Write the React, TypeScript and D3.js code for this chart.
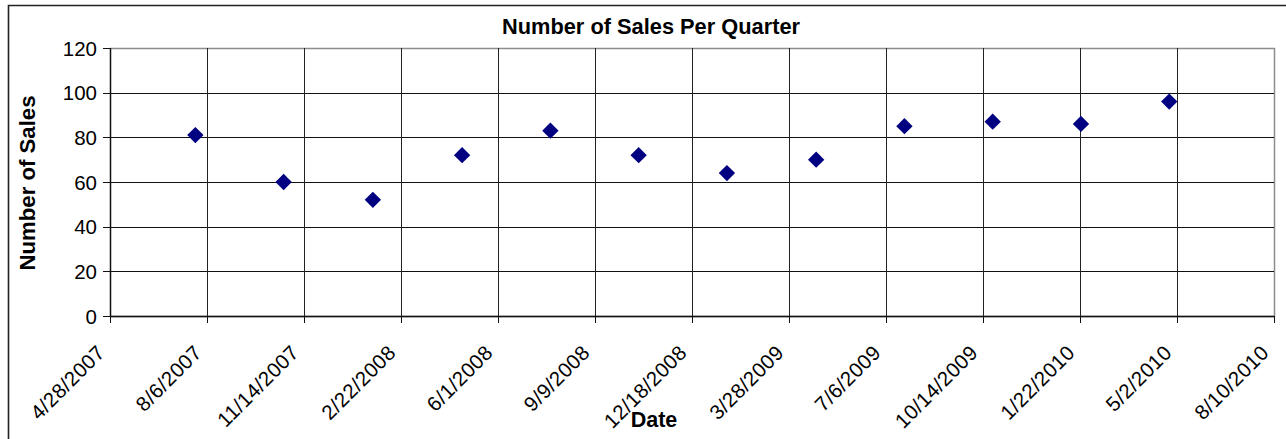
import React, { useEffect, useRef } from "react";
import * as d3 from "d3";

const saleDates = [
  "2007-07-25", "2007-10-24", "2008-01-24", "2008-04-25",
  "2008-07-25", "2008-10-24", "2009-01-23", "2009-04-25",
  "2009-07-25", "2009-10-24", "2010-01-23", "2010-04-24",
];
const salesCounts = [81, 60, 52, 72, 83, 72, 64, 70, 85, 87, 86, 96];
const xDomainStart = "2007-04-28";
const xDomainEnd = "2010-08-10";
const xTickStepDays = 100;
const yTicks = [0, 20, 40, 60, 80, 100, 120];
const chartTitle = "Number of Sales Per Quarter";
const xTitle = "Date";
const yTitle = "Number of Sales";

const W = 1286;
const H = 439;
const plot = { left: 110, right: 1274, top: 48, bottom: 316 };

export default function App() {
  const ref = useRef<SVGSVGElement | null>(null);

  useEffect(() => {
    const svg = d3.select(ref.current);
    svg.selectAll("*").remove();
    const parse = d3.utcParse("%Y-%m-%d");
    const start = parse(xDomainStart)!;
    const end = parse(xDomainEnd)!;
    const x = d3.scaleUtc().domain([start, end]).range([plot.left, plot.right]);
    const y = d3.scaleLinear().domain([0, 120]).range([plot.bottom, plot.top]);
    const nTicks = Math.round((+end - +start) / 86400000 / xTickStepDays);
    const xTicks = d3.range(nTicks + 1).map((i) => d3.utcDay.offset(start, i * xTickStepDays));
    const fmt = d3.utcFormat("%-m/%-d/%Y");
    const font = "'Liberation Sans', Arial, sans-serif";

    svg.append("rect").attr("x", 0).attr("y", 0).attr("width", W).attr("height", H).attr("fill", "#fff");
    // outer chart border
    svg.append("path")
      .attr("d", `M8.5,${H + 5}V5.5H${W + 5}`)
      .attr("fill", "none").attr("stroke", "#222").attr("stroke-width", 1.6);

    // plot area border (gray)
    svg.append("rect")
      .attr("x", plot.left + 0.5).attr("y", plot.top + 0.5)
      .attr("width", plot.right - plot.left).attr("height", plot.bottom - plot.top)
      .attr("fill", "none").attr("stroke", "#8c8c8c").attr("stroke-width", 1.5);

    // horizontal gridlines
    svg.append("g").selectAll("line").data(yTicks.filter((t) => t > 0 && t < 120)).join("line")
      .attr("x1", plot.left).attr("x2", plot.right)
      .attr("y1", (d) => Math.round(y(d)) + 0.5).attr("y2", (d) => Math.round(y(d)) + 0.5)
      .attr("stroke", "#111").attr("stroke-width", 1);
    // vertical gridlines
    svg.append("g").selectAll("line").data(xTicks.slice(1, -1)).join("line")
      .attr("x1", (d) => Math.round(x(d)) + 0.5).attr("x2", (d) => Math.round(x(d)) + 0.5)
      .attr("y1", plot.top).attr("y2", plot.bottom)
      .attr("stroke", "#222").attr("stroke-width", 1);

    // axes lines
    svg.append("line").attr("x1", plot.left + 0.5).attr("x2", plot.left + 0.5)
      .attr("y1", plot.top).attr("y2", plot.bottom + 0.5).attr("stroke", "#111").attr("stroke-width", 1.3);
    svg.append("line").attr("x1", plot.left).attr("x2", plot.right + 0.5)
      .attr("y1", plot.bottom + 0.5).attr("y2", plot.bottom + 0.5).attr("stroke", "#111").attr("stroke-width", 1.3);

    // y ticks
    const yg = svg.append("g");
    yg.selectAll("line").data(yTicks).join("line")
      .attr("x1", plot.left - 7).attr("x2", plot.left)
      .attr("y1", (d) => Math.round(y(d)) + 0.5).attr("y2", (d) => Math.round(y(d)) + 0.5)
      .attr("stroke", "#111");
    yg.selectAll("text").data(yTicks).join("text")
      .attr("x", plot.left - 13).attr("y", (d) => y(d) + 7.5)
      .attr("text-anchor", "end").attr("font-family", font).attr("font-size", 20.5)
      .attr("fill", "#000").text((d) => String(d));

    // x ticks
    const xg = svg.append("g");
    xg.selectAll("line").data(xTicks).join("line")
      .attr("x1", (d) => Math.round(x(d)) + 0.5).attr("x2", (d) => Math.round(x(d)) + 0.5)
      .attr("y1", plot.bottom).attr("y2", plot.bottom + 7)
      .attr("stroke", "#111");
    xg.selectAll("text").data(xTicks).join("text")
      .attr("transform", (d) => `translate(${x(d) - 4},${plot.bottom + 38}) rotate(-45)`)
      .attr("text-anchor", "end").attr("font-family", font).attr("font-size", 20.5)
      .attr("letter-spacing", 0.4)
      .attr("fill", "#000").text((d) => fmt(d));

    // points
    const sym = d3.symbol().type(d3.symbolDiamond2).size(170);
    svg.append("g").selectAll("path").data(saleDates.map((d, i) => ({ date: parse(d)!, v: salesCounts[i] })))
      .join("path")
      .attr("transform", (d) => `translate(${x(d.date)},${y(d.v)})`)
      .attr("d", sym as any)
      .attr("fill", "#000080");

    // titles
    svg.append("text").attr("x", 651).attr("y", 34).attr("text-anchor", "middle")
      .attr("font-family", font).attr("font-weight", "bold").attr("font-size", 21.8)
      .attr("fill", "#000").text(chartTitle);
    svg.append("text").attr("x", 654).attr("y", 427).attr("text-anchor", "middle")
      .attr("font-family", font).attr("font-weight", "bold").attr("font-size", 21.5)
      .attr("fill", "#000").text(xTitle);
    svg.append("text").attr("transform", `translate(35,${(plot.top + plot.bottom) / 2 + 1}) rotate(-90)`)
      .attr("text-anchor", "middle")
      .attr("font-family", font).attr("font-weight", "bold").attr("font-size", 22.2)
      .attr("fill", "#000").text(yTitle);
  }, []);

  return (
    <svg
      ref={ref}
      width={W}
      height={H}
      style={{ position: "absolute", left: 0, top: 0, display: "block" }}
    />
  );
}
